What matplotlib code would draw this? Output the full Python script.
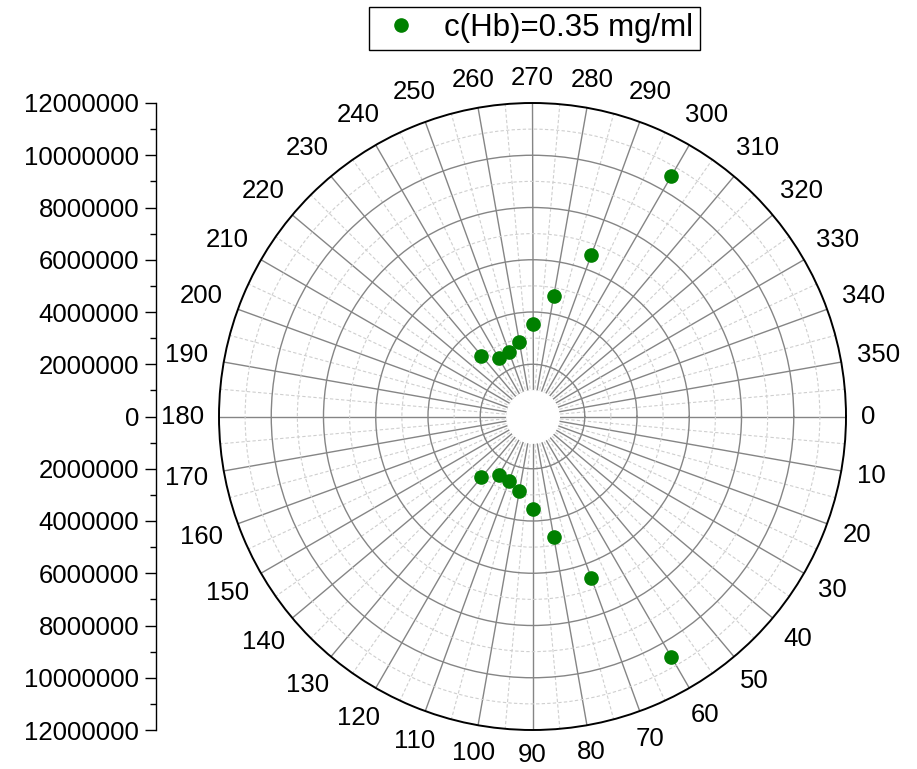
import numpy as np
import matplotlib.pyplot as plt
from matplotlib.ticker import MultipleLocator, FuncFormatter
from matplotlib.lines import Line2D

plt.rcParams['font.family'] = ['Liberation Sans', 'DejaVu Sans']

# data (angle in degrees, value)
angle = [60, 70, 80, 90, 100, 110, 120, 130,
         230, 240, 250, 260, 270, 280, 290, 300]
value = [10.64e6, 6.58e6, 4.68e6, 3.54e6, 2.90e6, 2.63e6, 2.60e6, 3.04e6,
         3.04e6, 2.60e6, 2.63e6, 2.90e6, 3.54e6, 4.68e6, 6.58e6, 10.64e6]
series_name = "c(Hb)=0.35 mg/ml"
rmax = 12e6
angle_ticks = list(range(0, 360, 10))

W, H = 917, 769
fig = plt.figure(figsize=(W / 100, H / 100), dpi=100)

# polar area: center (532.5, 416.5), radius 313.5 px
cx, cy, R = 532.5, 416.5, 313.5
ax = fig.add_axes([(cx - R) / W, (H - cy - R) / H, 2 * R / W, 2 * R / H],
                  projection='polar')
ax.set_theta_zero_location('E')
ax.set_theta_direction(-1)
ax.set_ylim(0, rmax)

ax.set_xticks(np.deg2rad(angle_ticks))
ax.set_xticks(np.deg2rad(np.arange(5, 360, 10)), minor=True)
ax.set_xticklabels([])
ax.set_yticks(np.arange(2e6, rmax, 2e6))
ax.set_yticks(np.arange(1e6, rmax, 2e6), minor=True)
ax.set_yticklabels([])
ax.tick_params(axis='y', which='both', length=0)
ax.tick_params(axis='x', which='major', direction='in', length=10,
               width=1.2, color='black')
ax.tick_params(axis='x', which='minor', direction='in', length=5,
               width=1.0, color='black')

ax.xaxis.grid(True, which='major', color='#858585', lw=1.0, ls='-')
ax.xaxis.grid(True, which='minor', color='#cfcfcf', lw=0.8, ls=(0, (3, 2)))
ax.yaxis.grid(True, which='major', color='#858585', lw=1.0, ls='-')
ax.yaxis.grid(True, which='minor', color='#cfcfcf', lw=0.8, ls=(0, (3, 2)))
ax.spines['polar'].set_linewidth(1.4)
ax.spines['polar'].set_color('black')

# white hole in the middle
th = np.linspace(0, 2 * np.pi, 300)
ax.fill_between(th, 0, 1e6, color='white', zorder=2)

ax.plot(np.deg2rad(angle), value, 'o', color='#008000', ms=9.5,
        clip_on=False, zorder=5)

# angle labels outside the circle, horizontal
for a in angle_ticks:
    t = np.deg2rad(a)
    ux, uy = np.cos(t), -np.sin(t)
    lab = str(a)
    w = 14.5 * len(lab)
    d = 15 + abs(ux) * w / 2 + abs(uy) * 10
    ax.annotate(lab, xy=(t, rmax), xytext=(ux * d, uy * d),
                textcoords='offset pixels', ha='center', va='center',
                fontsize=18.5, annotation_clip=False)

# left radial scale
ax2 = fig.add_axes([156 / W, (H - cy - R) / H, 0.001, 2 * R / H])
ax2.set_facecolor('none')
for s in ['top', 'right', 'bottom']:
    ax2.spines[s].set_visible(False)
ax2.spines['left'].set_linewidth(1.0)
ax2.set_ylim(-rmax, rmax)
ax2.set_xticks([])
ax2.yaxis.set_major_locator(MultipleLocator(2e6))
ax2.yaxis.set_minor_locator(MultipleLocator(1e6))
ax2.yaxis.set_major_formatter(FuncFormatter(lambda v, p: "%d" % abs(round(v))))
ax2.tick_params(axis='y', which='major', direction='out', length=8,
                width=1.0, labelsize=18.5, pad=4)
ax2.tick_params(axis='y', which='minor', direction='out', length=4, width=1.0)

handle = Line2D([], [], ls='none', marker='o', color='#008000', ms=9.5)
leg = fig.legend([handle], [series_name], loc='upper center',
                 bbox_to_anchor=(534.5 / W, 1 - 7 / H), fontsize=22.5,
                 frameon=True, fancybox=False, framealpha=1,
                 borderpad=0.2, handletextpad=0.6, handlelength=1.6,
                 borderaxespad=0)
leg.get_frame().set_edgecolor('black')
leg.get_frame().set_linewidth(1.0)

fig.savefig('out.png', dpi=100)
